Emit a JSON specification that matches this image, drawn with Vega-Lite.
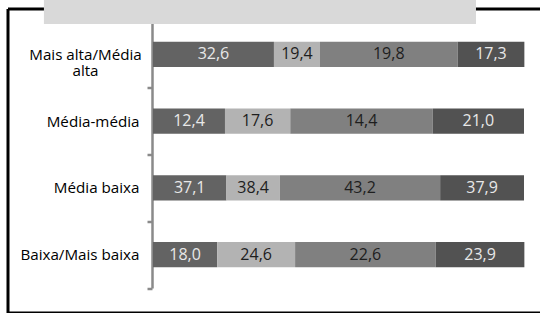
{
  "$schema": "https://vega.github.io/schema/vega-lite/v6.json",
  "width": 532.5,
  "height": 304,
  "autosize": {"type": "none"},
  "padding": {"left": 7.5, "top": 8.5, "right": 0, "bottom": 0},
  "background": "white",
  "config": {
    "view": {"stroke": null},
    "locale": {"number": {"decimal": ",", "thousands": ".", "grouping": [3], "currency": ["", ""]}}
  },
  "resolve": {"scale": {"y": "independent"}, "axis": {"x": "independent"}},
  "layer": [
    {
      "data": {
        "values": [
          {"classe": "Mais alta/Média alta", "seg": 1, "len": 32.6, "value": 32.6},
          {"classe": "Mais alta/Média alta", "seg": 2, "len": 12.4, "value": 19.4},
          {"classe": "Mais alta/Média alta", "seg": 3, "len": 37.1, "value": 19.8},
          {"classe": "Mais alta/Média alta", "seg": 4, "len": 18.0, "value": 17.3},
          {"classe": "Média-média", "seg": 1, "len": 19.4, "value": 12.4},
          {"classe": "Média-média", "seg": 2, "len": 17.6, "value": 17.6},
          {"classe": "Média-média", "seg": 3, "len": 38.4, "value": 14.4},
          {"classe": "Média-média", "seg": 4, "len": 24.6, "value": 21.0},
          {"classe": "Média baixa", "seg": 1, "len": 19.8, "value": 37.1},
          {"classe": "Média baixa", "seg": 2, "len": 14.4, "value": 38.4},
          {"classe": "Média baixa", "seg": 3, "len": 43.2, "value": 43.2},
          {"classe": "Média baixa", "seg": 4, "len": 22.6, "value": 37.9},
          {"classe": "Baixa/Mais baixa", "seg": 1, "len": 17.3, "value": 18.0},
          {"classe": "Baixa/Mais baixa", "seg": 2, "len": 21.0, "value": 24.6},
          {"classe": "Baixa/Mais baixa", "seg": 3, "len": 37.9, "value": 22.6},
          {"classe": "Baixa/Mais baixa", "seg": 4, "len": 23.9, "value": 23.9}
        ]
      },
      "encoding": {
        "y": {
          "field": "classe",
          "type": "nominal",
          "sort": null,
          "scale": {"range": [12.5, 279.5], "paddingInner": 0, "paddingOuter": 0},
          "axis": {
            "title": null,
            "orient": "left",
            "offset": -144.5,
            "tickBand": "extent",
            "domainColor": "#8a8a8a",
            "domainWidth": 2.5,
            "tickColor": "#8a8a8a",
            "tickWidth": 2.5,
            "tickSize": 5,
            "labelFont": "Open Sans",
            "labelFontSize": 15.2,
            "labelColor": "#000000",
            "labelLimit": 0,
            "labelLineHeight": 16,
            "labelBaseline": "middle",
            "labelExpr": "datum.value == 'Mais alta/Média alta' ? ['Mais alta/Média', 'alta'] : datum.value",
            "labelAlign": {"condition": {"test": "datum.value == 'Mais alta/Média alta'", "value": "center"}, "value": "right"},
            "labelPadding": {"condition": {"test": "datum.value == 'Mais alta/Média alta'", "value": 62}, "value": 8},
            "zindex": 0
          }
        },
        "x": {
          "field": "len",
          "type": "quantitative",
          "stack": "zero",
          "scale": {"domain": [-39.218, 104.313], "nice": false, "zero": false},
          "axis": {"orient": "bottom", "title": null, "labels": false, "ticks": false, "grid": false, "domainColor": "#000000", "domainWidth": 3, "zindex": 0}
        },
        "order": {"field": "seg", "type": "quantitative"}
      },
      "layer": [
        {
          "mark": {"type": "bar", "height": {"band": 0.38}},
          "encoding": {
            "color": {
              "field": "seg",
              "type": "nominal",
              "scale": {"domain": [1, 2, 3, 4], "range": ["#636363", "#b3b3b3", "#808080", "#525252"]},
              "legend": null
            }
          }
        },
        {
          "mark": {"type": "text", "font": "Open Sans", "fontSize": 16, "baseline": "middle", "align": "center"},
          "encoding": {
            "x": {"field": "len", "type": "quantitative", "stack": "zero", "bandPosition": 0.5},
            "detail": {"field": "seg", "type": "nominal"},
            "text": {"field": "value", "type": "quantitative", "format": ".1f"},
            "color": {"condition": {"test": "datum.seg == 2 || datum.seg == 3", "value": "#1e1e1e"}, "value": "#e8e8e8"}
          }
        }
      ]
    },
    {
      "data": {"values": [{}]},
      "mark": {"type": "rect", "color": "#d9d9d9"},
      "encoding": {
        "x": {"datum": -29.4, "type": "quantitative", "axis": {"orient": "top", "title": null, "labels": false, "ticks": false, "grid": false, "domainColor": "#000000", "domainWidth": 3, "zindex": 0}},
        "x2": {"datum": 87.06},
        "y": {"datum": 1.03, "type": "quantitative", "scale": {"domain": [0, 1], "nice": false, "zero": false}, "axis": {"orient": "left", "offset": 0, "title": null, "labels": false, "ticks": false, "grid": false, "domainColor": "#000000", "domainWidth": 3, "zindex": 0}},
        "y2": {"datum": 0.949}
      }
    }
  ]
}
